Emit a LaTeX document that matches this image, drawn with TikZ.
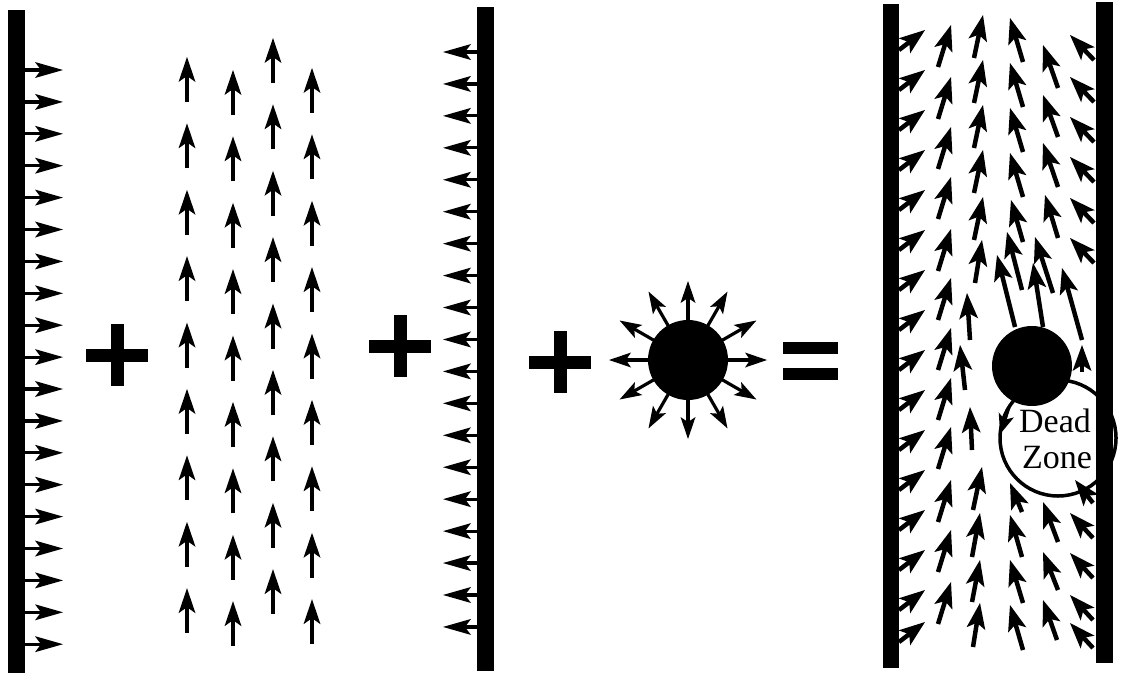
\documentclass[tikz,border=0pt]{standalone}
\usepackage{fontspec}
\setmainfont{Liberation Serif}
\usetikzlibrary{calc}
% #1 line width, #2 head length, #3 half width, #4 inset, #5 tail, #6 tip
\newcommand\myarrow[6]{%
  \draw[line width=#1] (#5) -- ($(#6)!0.5*#2!(#5)$);
  \fill (#6) -- ($(#6)!#2!(#5)!#3!90:(#6)$) -- ($(#6)!#2-#4!(#5)$)
     -- ($(#6)!#2!(#5)!#3!-90:(#6)$) -- cycle;}
\newcommand\harr[2]{\myarrow{3.2pt}{28pt}{8pt}{6pt}{#1}{#2}}
\newcommand\varr[2]{\myarrow{4pt}{25pt}{8.5pt}{6pt}{#1}{#2}}
\newcommand\rarr[2]{\myarrow{3.2pt}{22pt}{7.5pt}{5pt}{#1}{#2}}
\newcommand\farr[2]{\myarrow{4.5pt}{26pt}{9.5pt}{6pt}{#1}{#2}}
\begin{document}
\begin{tikzpicture}[x=1pt,y=-1pt,
  plussign/.pic={\fill (-31,-6.5) rectangle (31,6.5); \fill (-6.5,-31) rectangle (6.5,31);},
  ]
\useasboundingbox (0,0) rectangle (1123,675);
% walls
\fill (8,10) rectangle (25,673);
\fill (477,7) rectangle (494,671);
\fill (883,4) rectangle (899,668);
\fill (1096,2) rectangle (1113,663);
% panel 1
\foreach \i in {0,...,18} {
  \coordinate (t) at (25,{70+31.9*\i}); \coordinate (h) at (63,{70+31.9*\i});
  \harr{t}{h}}
% panel 2
\foreach \x/\tt in {187/57,233/70,273/38,312/68}
  \foreach \k in {0,...,8} {
    \coordinate (t) at (\x,{\tt+66.4*\k+45}); \coordinate (h) at (\x,{\tt+66.4*\k});
    \varr{t}{h}}
% panel 3
\foreach \i in {0,...,18} {
  \coordinate (t) at (477,{52+31.94*\i}); \coordinate (h) at (443,{52+31.94*\i});
  \harr{t}{h}}
% plus signs
\pic at (117,355) {plussign};
\pic at (400,346) {plussign};
\pic at (560,362) {plussign};
% sun
\coordinate (sun) at (688,360);
\fill (sun) circle (40);
\foreach \a in {0,30,...,330} {
  \coordinate (t) at ($(sun)+(\a:36)$); \coordinate (h) at ($(sun)+(\a:79)$);
  \rarr{t}{h}}
% equals
\fill (783,342) rectangle (838,354);
\fill (783,368) rectangle (838,380);
% panel 4 dead zone
\coordinate (dz) at (1058,438);
\draw[line width=3.5pt] (dz) circle (58);
\coordinate (t) at ($(dz)+(212:58)$); \coordinate (h) at ($(dz)+(184:58)$);
\myarrow{3.5pt}{20pt}{8pt}{5pt}{t}{h}
\fill (1032,366) circle (40);
\node[font=\fontsize{34}{36}\selectfont, anchor=base, inner sep=0pt] (dead) at (1055,432) {Dead};
\node[font=\fontsize{34}{36}\selectfont, anchor=base, inner sep=0pt] (zone) at (1057,468) {Zone};
% column A
\foreach \tt in {30,70,110,150,190,230,270,310,350,390,430,470,510,550,590,622} {
  \coordinate (t) at (899,{\tt+20}); \coordinate (h) at (925,\tt);
  \farr{t}{h}}
% column B
\foreach \tt in {25,77,127,177,229,278,328,378,427,480,530,582} {
  \coordinate (t) at (938,{\tt+42}); \coordinate (h) at (951,\tt);
  \farr{t}{h}}
% columns C, D, E and near-obstacle arrows
\foreach \a/\b/\c/\d in {974/58/983/15, 974/103/983/60, 974/148/983/105, 974/193/983/150,
  974/240/983/197, 975/283/982/240, 970/340/967/293, 965/390/960/345, 972/450/970/407,
  973/510/982/467, 972/557/980/513, 972/602/980/560, 973/647/980/603,
  1023/62/1010/18, 1023/107/1010/63, 1023/152/1010/108, 1023/197/1010/153,
  1023/242/1011/200, 1022/290/1007/232, 1015/327/997/255,
  1022/512/1010/483, 1022/557/1010/515, 1023/603/1010/560, 1023/650/1010/605,
  1058/88/1043/45, 1058/137/1043/95, 1058/187/1043/143, 1058/238/1045/195,
  1053/293/1035/237, 1043/327/1033/263,
  1058/542/1043/502, 1058/590/1043/552, 1057/640/1043/600,
  1082/340/1062/268, 1082/372/1082/345, 1093/503/1075/480,
  1093/538/1070/513, 1093/578/1070/553, 1093/620/1070/595, 1093/648/1070/623} {
  \coordinate (t) at (\a,\b); \coordinate (h) at (\c,\d);
  \farr{t}{h}}
% column F
\foreach \tt in {35,77,117,157,198,238} {
  \coordinate (t) at (1094,{\tt+25}); \coordinate (h) at (1070,\tt);
  \farr{t}{h}}
\end{tikzpicture}
\end{document}
